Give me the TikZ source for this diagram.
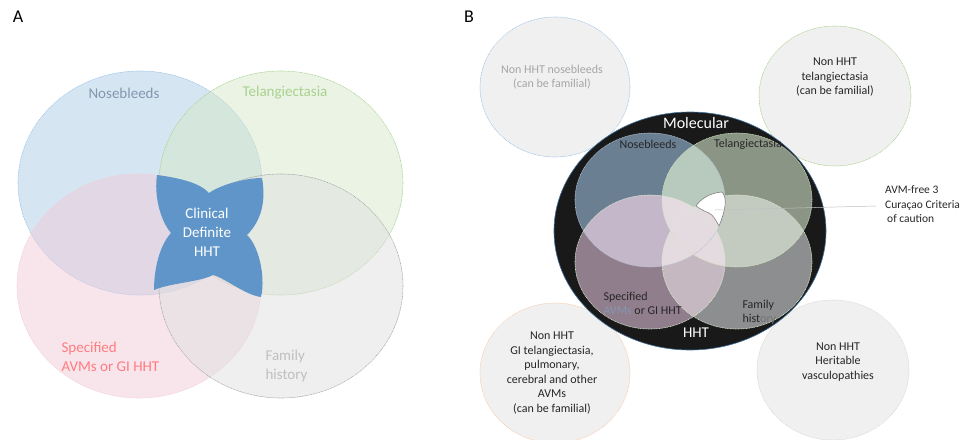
\documentclass[tikz,border=0pt]{standalone}
\usepackage{fontspec}
\setmainfont{Carlito}
\usetikzlibrary{positioning}

% colours of panel A (used at half opacity)
\definecolor{noseA}{HTML}{ABCBE5}
\definecolor{telA}{HTML}{D5E8C9}
\definecolor{avmA}{HTML}{F1CBD9}
\definecolor{famA}{HTML}{DFDFDF}
\definecolor{butterfly}{HTML}{5F95C8}
\definecolor{noseInk}{HTML}{8497B0}
\definecolor{noseRim}{HTML}{9DC3E6}
\definecolor{telInk}{HTML}{A9D18E}
\definecolor{avmInk}{HTML}{FF7C80}
\definecolor{avmRim}{HTML}{F8CBAD}
% colours of panel B
\definecolor{noseB}{HTML}{6B7F93}
\definecolor{telB}{HTML}{8B9586}
\definecolor{avmB}{HTML}{917E8C}
\definecolor{famB}{HTML}{8D8E90}
\definecolor{noseTel}{HTML}{B8C9BD}
\definecolor{noseAvm}{HTML}{C4B7C9}
\definecolor{telFam}{HTML}{C3CBC1}
\definecolor{avmFam}{HTML}{C6B8C0}
\definecolor{core}{HTML}{E4DBE1}
\definecolor{molRim}{HTML}{41719C}
\definecolor{outerfill}{HTML}{F0F0F0}
\definecolor{inktext}{HTML}{262626}

\tikzset{
  ringA/.style={fill opacity=0.5, densely dotted, line width=0.6pt},
  labelA/.style={font=\fontsize{15}{19}\selectfont},
  labelB/.style={font=\fontsize{12}{14.5}\selectfont, text=inktext},
  outer/.style={fill=outerfill, densely dotted, line width=0.6pt},
  panel/.style={font=\fontsize{18}{20}\selectfont}
}

\begin{document}
\begin{tikzpicture}[x=1pt, y=-1pt, line cap=round, line join=round]
\useasboundingbox (0,0) rectangle (966,439);

%-----------------------
% panel A: four criteria
%-----------------------
\node[panel] (pA) at (18,17) {A};

\filldraw[ringA, fill=noseA, draw=noseRim] (140,183) ellipse [x radius=122pt, y radius=112pt];
\filldraw[ringA, fill=telA, draw=telInk] (281,183) ellipse [x radius=122pt, y radius=112pt];
\filldraw[ringA, fill=avmA, draw=avmA] (139,286) ellipse [x radius=122pt, y radius=112pt];
\filldraw[ringA, fill=famA, draw=black!35] (281,286) ellipse [x radius=122pt, y radius=112pt];

% clinical definite HHT
\fill[butterfly] (157,175) .. controls (180,178) and (200,183) .. (209,193)
  .. controls (220,185) and (245,178) .. (262,178)
  .. controls (266,200) and (262,220) .. (247,235)
  .. controls (258,245) and (266,275) .. (261,297)
  .. controls (245,295) and (225,278) .. (213,275)
  .. controls (200,282) and (170,283) .. (154,290)
  .. controls (154,268) and (160,245) .. (171,233)
  .. controls (160,220) and (154,195) .. cycle;

\node[labelA, text=noseInk] (noseLabA) at (124,93) {Nosebleeds};
\node[labelA, text=telInk] (telLabA) at (285,93) {Telangiectasia};
\node[labelA, text=avmInk, align=left, anchor=west] (avmLabA) at (58,356.5) {Specified\\AVMs or GI HHT};
\node[labelA, text=black!25, align=left, anchor=west] (famLabA) at (262,365.5) {Family\\history};
\node[labelA, text=white, align=center] (hhtA) at (207,232) {Clinical\\Definite\\HHT};

%-----------------------
% panel B: outer mimics
%-----------------------
\node[panel] (pB) at (469,17) {B};

\filldraw[outer, draw=noseRim] (555,87) ellipse [x radius=75pt, y radius=70pt];
\filldraw[outer, draw=telInk] (835,96) ellipse [x radius=76pt, y radius=70pt];
\filldraw[outer, draw=avmRim] (555,373) ellipse [x radius=75pt, y radius=70pt];
\filldraw[outer, draw=black!15] (833,370) ellipse [x radius=76pt, y radius=70pt];

\node[labelB, text=black!35, align=center] (nonNose) at (552,77) {Non HHT nosebleeds\\(can be familial)};
\node[labelB, align=center] (nonTel) at (835,77) {Non HHT\\telangiectasia\\(can be familial)};
\node[labelB, align=center] (nonAvm) at (552,373) {Non HHT\\GI telangiectasia,\\pulmonary,\\cerebral and other\\AVMs\\(can be familial)};
\node[labelB, align=center] (nonFam) at (838,362) {Non HHT\\Heritable\\vasculopathies};

%-----------------------
% panel B: molecular HHT
%-----------------------
\filldraw[fill=black!90, draw=molRim, line width=0.6pt] (690,231) ellipse [x radius=136pt, y radius=119pt];

\def\ringN{(650,200) ellipse [x radius=75pt, y radius=67pt]}
\def\ringT{(737,200) ellipse [x radius=75pt, y radius=67pt]}
\def\ringS{(650,262) ellipse [x radius=75pt, y radius=67pt]}
\def\ringF{(737,262) ellipse [x radius=75pt, y radius=67pt]}

\fill[noseB] \ringN;
\fill[telB] \ringT;
\fill[avmB] \ringS;
\fill[famB] \ringF;

% pairwise overlaps are lighter
\begin{scope} \clip \ringN; \fill[noseTel] \ringT; \end{scope}
\begin{scope} \clip \ringN; \fill[noseAvm] \ringS; \end{scope}
\begin{scope} \clip \ringT; \fill[telFam] \ringF; \end{scope}
\begin{scope} \clip \ringS; \fill[avmFam] \ringF; \end{scope}
\begin{scope} \clip \ringN; \fill[core] \ringF; \end{scope}
\begin{scope} \clip \ringT; \fill[core] \ringS; \end{scope}

\draw[densely dotted, line width=0.6pt, noseInk!60] \ringN;
\draw[densely dotted, line width=0.6pt, telInk!60] \ringT;
\draw[densely dotted, line width=0.6pt, telInk!45] \ringS;
\draw[densely dotted, line width=0.6pt, telInk!45] \ringF;

% AVM-free 3 Curacao criteria
\filldraw[fill=white, draw=black!50, line width=0.6pt] (696,206)
  .. controls (699,201) and (708,193) .. (722,192)
  .. controls (728,198) and (725,212) .. (719,226)
  .. controls (716,220) and (713,215) .. (709,213)
  .. controls (704,211) and (700,209) .. cycle;

\node[labelB, text=white, font=\fontsize{16}{18}\selectfont] (molB) at (696,123) {Molecular};
\node[labelB, text=white, font=\fontsize{15}{18}\selectfont] (hhtB) at (696,333) {HHT};
\node[labelB] (noseLabB) at (648,144) {Nosebleeds};
\node[labelB] (telLabB) at (748,144) {Telangiectasia};
\node[labelB, align=left, anchor=west] (avmLabB) at (600,303.5) {Specified\\\textcolor{noseInk}{AVMs} or GI HHT};
\node[labelB, align=left, anchor=west] (famLabB) at (739,312.5) {Family\\hist\textcolor{black!55}{ory}};

\node[labelB, align=left, anchor=west, font=\fontsize{11.5}{14.5}\selectfont, inner sep=1pt] (avmFree) at (884,204.5) {AVM-free 3\\Curaçao Criteria\\\hspace{2pt}of caution};
\coordinate (blob) at (715,210);
\coordinate (avmTip) at (876,206);
\draw[black!25, line width=0.5pt] (blob) -- (avmTip);

\end{tikzpicture}
\end{document}
